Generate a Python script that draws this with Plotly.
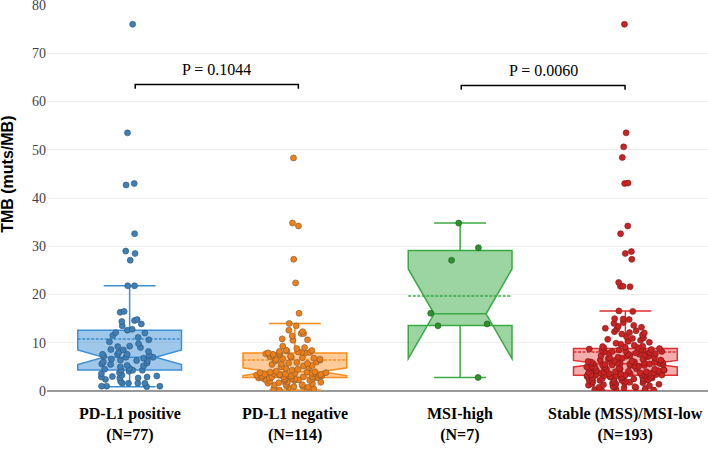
import plotly.graph_objects as go

categories = ["PD-L1 positive<br>(N=77)", "PD-L1 negative<br>(N=114)",
              "MSI-high<br>(N=7)", "Stable (MSS)/MSI-low<br>(N=193)"]

# individual TMB values (muts/MB)
pdl1_pos = [76.0, 53.5, 43.0, 42.7, 32.6, 29.0, 28.5, 27.1, 21.8, 21.8, 16.5, 16.3, 14.8, 14.6, 14.4,
            13.9, 13.5, 12.8, 12.6,
            12.1, 12.0, 11.5, 11.1, 10.6, 10.2, 9.8, 9.3, 9.2, 9.0,
            8.6, 8.5, 8.2, 8.0, 7.6, 7.6, 7.6, 7.4, 7.2, 7.0,
            7.0, 6.8, 6.6, 6.4, 6.3, 6.3, 6.0, 5.8, 5.6, 5.5,
            5.3, 5.2, 5.0, 4.7, 4.5, 4.3, 4.3, 4.3, 4.1, 3.8,
            3.6, 3.3, 3.1, 3.0, 2.9, 2.9, 2.7, 2.7, 2.4, 2.0,
            1.6, 1.6, 1.6, 1.6, 1.0, 1.0, 1.0, 0.9]
pdl1_neg = [48.3, 34.8, 34.2, 27.3, 22.4, 16.1, 14.0, 13.5, 12.6, 12.3, 11.9, 11.9, 11.4, 10.8,
            10.6, 10.5, 9.3, 9.0, 8.8, 8.5, 8.4, 8.3, 8.2, 8.1, 8.0, 8.0, 7.9, 7.9,
            7.8, 7.7, 7.6, 7.5, 7.4, 7.2, 7.1, 7.0, 6.9, 6.8,
            6.7, 6.6, 6.5, 6.4, 6.2, 6.0, 5.9, 5.8, 5.7, 5.6,
            5.5, 5.3, 5.2, 5.0, 4.9, 4.7, 4.5, 4.3, 4.1,
            4.0, 3.9, 3.9, 3.8, 3.8, 3.7, 3.7, 3.6, 3.6, 3.5,
            3.5, 3.4, 3.4, 3.3, 3.3, 3.2, 3.2, 3.1, 3.1, 3.0,
            3.0, 2.9, 2.9, 2.9, 2.8, 2.8, 2.8, 2.7, 2.7, 2.6,
            2.6, 2.5, 2.5, 2.4, 2.4, 2.3, 2.2, 2.2, 2.1, 2.0,
            1.9, 1.8, 1.7, 1.6, 1.5, 1.4, 1.3, 1.2, 1.1, 1.0,
            0.9, 0.8, 0.7, 0.5, 0.4, 0.2, 0.1]
msi_high = [34.8, 29.7, 27.1, 16.1, 13.9, 13.5, 2.8]
mss_low = [76.0, 53.5, 50.6, 48.4, 43.1, 43.0, 34.2, 32.6, 28.9, 28.5, 27.3, 22.5, 21.7, 21.7, 21.6,
           16.6, 16.5, 15.0, 14.9, 14.8, 14.2, 14.0, 13.6, 13.4, 13.2,
           13.0, 12.8, 12.5, 12.3, 12.1, 12.0, 11.8, 11.6, 11.3, 11.0,
           10.9, 10.7, 10.5, 10.3, 10.1, 9.9, 9.7, 9.5, 9.3, 9.2,
           9.1, 9.0, 8.9,
           8.8, 8.7, 8.7, 8.6, 8.5, 8.5, 8.4, 8.3, 8.2, 8.2,
           8.1, 8.0, 7.9, 7.9, 7.8, 7.7, 7.6, 7.6, 7.5, 7.4,
           7.3, 7.2, 7.2, 7.1, 7.0, 6.9, 6.9, 6.8, 6.7, 6.6,
           6.6, 6.5, 6.4, 6.4, 6.3, 6.2, 6.2, 6.1, 6.0, 6.0,
           5.9, 5.9, 5.8, 5.8, 5.7, 5.7, 5.7, 5.7,
           5.6,
           5.6, 5.5, 5.5, 5.4, 5.4, 5.3, 5.3, 5.2, 5.1, 5.1,
           5.0, 5.0, 4.9, 4.9, 4.8, 4.7, 4.7, 4.6, 4.6, 4.5,
           4.5, 4.4, 4.3, 4.3, 4.2, 4.2, 4.1, 4.0, 4.0, 3.9,
           3.9, 3.8, 3.8, 3.7, 3.7, 3.6, 3.6, 3.5, 3.5, 3.4,
           3.4, 3.4, 3.3, 3.3, 3.3, 3.3, 3.2, 3.2,
           3.2, 3.1, 3.1, 3.0, 3.0, 2.9, 2.9, 2.8, 2.8, 2.7,
           2.7, 2.6, 2.6, 2.5, 2.5, 2.4, 2.4, 2.3, 2.3, 2.2,
           2.2, 2.1, 2.0, 2.0, 1.9, 1.8, 1.8, 1.7, 1.6, 1.6,
           1.5, 1.4, 1.4, 1.3, 1.2, 1.1, 1.0, 0.9, 0.8, 0.8,
           0.7, 0.6, 0.5, 0.4, 0.3, 0.2, 0.1, 0.1]
groups = [pdl1_pos, pdl1_neg, msi_high, mss_low]

# box statistics as drawn in the reference
q1_vals = [4.35, 2.8, 13.6, 3.25]
median_vals = [7.0, 4.0, 16.0, 5.65]
q3_vals = [12.6, 7.9, 29.1, 8.8]
lower_whisk = [0.9, 0.2, 2.8, 0.1]
upper_whisk = [21.8, 14.0, 34.8, 16.6]
mean_vals = [10.8, 6.4, 19.7, 8.1]
notch_span = [1.5, 0.8, 9.3, 0.68]

p_labels = ["P = 0.1044", "P = 0.0060"]

line_colors = ["#3d8fd6", "#ff8c1a", "#3aaa45", "#e03131"]
fill_colors = ["rgba(61,143,214,0.5)", "rgba(255,140,26,0.45)",
               "rgba(58,170,69,0.5)", "rgba(224,49,49,0.4)"]
point_colors = ["#3f7fb6", "#f07f14", "#2e8f2e", "#cc2222"]
point_edges = ["#2a5680", "#7a5a40", "#1d5e1d", "#7a1a1a"]

fig = go.Figure()
for i, cat in enumerate(categories):
    fig.add_trace(go.Box(
        x=[cat], q1=[q1_vals[i]], median=[median_vals[i]], q3=[q3_vals[i]],
        lowerfence=[lower_whisk[i]], upperfence=[upper_whisk[i]], mean=[mean_vals[i]],
        notchspan=[notch_span[i]], notched=True, notchwidth=0.25, boxmean=True,
        boxpoints=False, width=0.628, whiskerwidth=0.5,
        fillcolor=fill_colors[i], line=dict(color=line_colors[i], width=1.5),
        showlegend=False, hoverinfo="skip"))
for i, cat in enumerate(categories):
    vals = groups[i]
    fig.add_trace(go.Box(
        x=[cat] * len(vals), y=vals, boxpoints="all", jitter=0.75, pointpos=0,
        width=0.628, whiskerwidth=0, fillcolor="rgba(0,0,0,0)",
        line=dict(color="rgba(0,0,0,0)", width=0),
        marker=dict(color=point_colors[i], size=6,
                    line=dict(color=point_edges[i], width=0.6)),
        showlegend=False, hoverinfo="skip"))

serif = "Liberation Serif, Times New Roman, serif"
brackets = [(0.034, 1.021, 63.5), (2.007, 2.998, 63.3)]
for (xa, xb, yb), lab in zip(brackets, p_labels):
    fig.add_shape(type="path", xref="x", yref="y",
                  path=f"M {xa},{yb-0.85} L {xa},{yb} L {xb},{yb} L {xb},{yb-0.85}",
                  line=dict(color="black", width=1.5))
    fig.add_annotation(x=(xa + xb) / 2, y=yb + 1.0, xref="x", yref="y", text=lab,
                       showarrow=False, yanchor="bottom",
                       font=dict(family=serif, size=16, color="black"))

# category labels
for i, cat in enumerate(categories):
    fig.add_annotation(x=i, xref="x", y=0, yref="paper", yanchor="top", yshift=-12,
                       text="<b>" + cat.replace("<br>", "</b><br><b>") + "</b>",
                       showarrow=False, align="center",
                       font=dict(family=serif, size=16, color="black"))

fig.add_annotation(x=0, xref="paper", xanchor="center", xshift=-39, y=0.56, yref="paper",
                   yanchor="middle",
                   text="<b>TMB (muts/MB)</b>", textangle=-90, showarrow=False,
                   font=dict(family="Liberation Sans, Arial, sans-serif", size=16, color="black"))

fig.update_layout(
    width=708, height=449,
    margin=dict(l=47, r=0, t=5, b=58, autoexpand=False),
    paper_bgcolor="white", plot_bgcolor="white",
    boxmode="overlay",
    xaxis=dict(type="category", categoryorder="array", categoryarray=categories,
               range=[-0.5, 3.5], showgrid=False, showline=False, ticks="",
               showticklabels=False),
    yaxis=dict(range=[0, 80], dtick=10, showgrid=True, gridcolor="#eeeeee", gridwidth=1,
               zeroline=True, zerolinecolor="#999999", zerolinewidth=1.5,
               showline=False, ticks="", ticklabeloverflow="allow",
               tickfont=dict(family=serif, size=14, color="#444444")),
)

fig.write_html("out.html", config={"displayModeBar": False},
               post_script="document.body.style.margin='0';")
